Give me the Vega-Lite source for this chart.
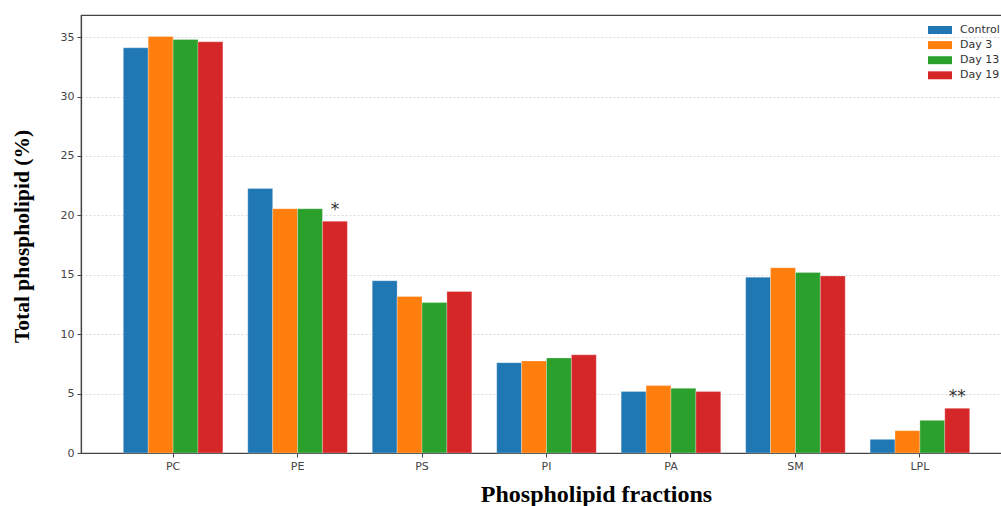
{
  "$schema": "https://vega.github.io/schema/vega-lite/v6.json",
  "width": 931,
  "height": 438,
  "autosize": {"type": "none"},
  "padding": {"left": 81, "top": 15, "right": -11, "bottom": 53},
  "background": "white",
  "config": {
    "view": {"stroke": "#444", "strokeWidth": 1.2},
    "font": "DejaVu Sans"
  },
  "data": {
    "values": [
      {"fraction": "PC", "group": "Control", "value": 34.1},
      {"fraction": "PC", "group": "Day 3", "value": 35.05},
      {"fraction": "PC", "group": "Day 13", "value": 34.8},
      {"fraction": "PC", "group": "Day 19", "value": 34.6},
      {"fraction": "PE", "group": "Control", "value": 22.25},
      {"fraction": "PE", "group": "Day 3", "value": 20.56},
      {"fraction": "PE", "group": "Day 13", "value": 20.56},
      {"fraction": "PE", "group": "Day 19", "value": 19.5, "label": "*"},
      {"fraction": "PS", "group": "Control", "value": 14.5},
      {"fraction": "PS", "group": "Day 3", "value": 13.17},
      {"fraction": "PS", "group": "Day 13", "value": 12.66},
      {"fraction": "PS", "group": "Day 19", "value": 13.59},
      {"fraction": "PI", "group": "Control", "value": 7.6},
      {"fraction": "PI", "group": "Day 3", "value": 7.75},
      {"fraction": "PI", "group": "Day 13", "value": 8.0},
      {"fraction": "PI", "group": "Day 19", "value": 8.26},
      {"fraction": "PA", "group": "Control", "value": 5.17},
      {"fraction": "PA", "group": "Day 3", "value": 5.67},
      {"fraction": "PA", "group": "Day 13", "value": 5.45},
      {"fraction": "PA", "group": "Day 19", "value": 5.17},
      {"fraction": "SM", "group": "Control", "value": 14.8},
      {"fraction": "SM", "group": "Day 3", "value": 15.6},
      {"fraction": "SM", "group": "Day 13", "value": 15.2},
      {"fraction": "SM", "group": "Day 19", "value": 14.9},
      {"fraction": "LPL", "group": "Control", "value": 1.15},
      {"fraction": "LPL", "group": "Day 3", "value": 1.88},
      {"fraction": "LPL", "group": "Day 13", "value": 2.75},
      {"fraction": "LPL", "group": "Day 19", "value": 3.76, "label": "**"}
    ]
  },
  "encoding": {
    "x": {
      "field": "fraction",
      "type": "nominal",
      "sort": ["PC", "PE", "PS", "PI", "PA", "SM", "LPL"],
      "scale": {"paddingInner": 0.2, "paddingOuter": 0.34},
      "axis": {
        "labelAngle": 0,
        "labelFont": "DejaVu Sans",
        "labelFontSize": 11,
        "labelColor": "#444",
        "labelPadding": 3,
        "tickColor": "#444",
        "tickSize": 4,
        "domainColor": "#444",
        "domainWidth": 1.2,
        "grid": false,
        "title": "Phospholipid fractions",
        "titleFont": "Liberation Serif",
        "titleFontSize": 24,
        "titleFontWeight": "bold",
        "titleColor": "#000",
        "titleX": 515,
        "titleY": 41,
        "titleAlign": "center",
        "titleBaseline": "middle",
        "titleAngle": 0
      }
    },
    "xOffset": {
      "field": "group",
      "type": "nominal",
      "sort": ["Control", "Day 3", "Day 13", "Day 19"],
      "scale": {"paddingInner": 0, "paddingOuter": 0}
    },
    "y": {
      "field": "value",
      "type": "quantitative",
      "scale": {"domain": [0, 36.86], "nice": false, "zero": true},
      "axis": {
        "values": [0, 5, 10, 15, 20, 25, 30, 35],
        "labelFont": "DejaVu Sans",
        "labelFontSize": 11,
        "labelColor": "#444",
        "labelPadding": 3,
        "tickColor": "#444",
        "tickSize": 4,
        "domainColor": "#444",
        "domainWidth": 1.2,
        "grid": true,
        "gridColor": "#ccc",
        "gridDash": [2, 2],
        "gridOpacity": 0.7,
        "title": "Total phospholipid (%)",
        "titleFont": "Liberation Serif",
        "titleFontSize": 21.5,
        "titleFontWeight": "bold",
        "titleColor": "#000",
        "titleX": -59,
        "titleY": 221,
        "titleAngle": -90,
        "titleAlign": "center",
        "titleBaseline": "middle"
      }
    }
  },
  "layer": [
    {
      "mark": {"type": "bar", "stroke": "white", "strokeOpacity": 0.35, "strokeWidth": 0.8},
      "encoding": {
        "color": {
          "field": "group",
          "type": "nominal",
          "sort": ["Control", "Day 3", "Day 13", "Day 19"],
          "scale": {
            "domain": ["Control", "Day 3", "Day 13", "Day 19"],
            "range": ["#1f77b4", "#ff7f0e", "#2ca02c", "#d62728"]
          },
          "legend": {
            "orient": "none",
            "legendX": 851.5,
            "legendY": 7.5,
            "title": null,
            "padding": 0,
            "symbolType": "M-1.6,-0.53H1.6V0.53H-1.6Z",
            "symbolSize": 225,
            "symbolStrokeWidth": 0,
            "symbolOpacity": 1,
            "labelFont": "DejaVu Sans",
            "labelFontSize": 11,
            "labelColor": "#333",
            "labelOffset": 12.5,
            "rowPadding": 2.1
          }
        }
      }
    },
    {
      "transform": [{"filter": "datum.label != null"}],
      "mark": {"type": "text", "font": "DejaVu Sans", "fontSize": 17, "color": "#333", "baseline": "alphabetic", "dy": -6},
      "encoding": {
        "text": {"field": "label", "type": "nominal"}
      }
    }
  ]
}
